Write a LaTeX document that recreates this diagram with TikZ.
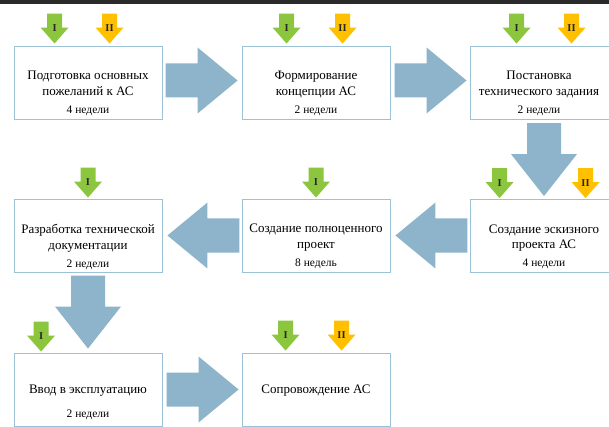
\documentclass[tikz,border=0pt]{standalone}
\usepackage{fontspec}
\setmainfont{Liberation Serif}
\usetikzlibrary{calc}
\definecolor{bigarr}{HTML}{8DB4CA}
\definecolor{boxline}{HTML}{9CC2D8}
\definecolor{grn}{HTML}{8CC63F}
\definecolor{org}{HTML}{FFC000}
\definecolor{topbar}{HTML}{2A2A2A}
\tikzset{
  stagebox/.style={draw=boxline, line width=0.9pt, minimum width=148pt, minimum height=73pt, inner sep=0pt},
  stagetext/.style={align=center, inner sep=0pt, anchor=north, font=\fontsize{13}{15.5}\selectfont},
  lbl/.style={font=\bfseries\fontsize{10.5}{11}\selectfont, inner sep=0pt, text=black!85},
  bigarrow/.style={fill=bigarr},
  barR/.pic={\fill[bigarrow] (0,0) -- (-40,-33) -- (-40,-17) -- (-72,-17) -- (-72,17) -- (-40,17) -- (-40,33) -- cycle;},
  barL/.pic={\fill[bigarrow] (0,0) -- (40,-33) -- (40,-17) -- (72,-17) -- (72,17) -- (40,17) -- (40,33) -- cycle;},
  barD/.pic={\fill[bigarrow] (0,0) -- (-33,-42) -- (-17,-42) -- (-17,-73) -- (17,-73) -- (17,-42) -- (33,-42) -- cycle;},
}
\newcommand\sarr[4]{%
  \coordinate (#1) at #2;
  \fill[#3] ($(#1)+(-7.5,-30)$) -- ($(#1)+(7.5,-30)$) -- ($(#1)+(7.5,-16)$) -- ($(#1)+(14,-16)$) -- (#1) -- ($(#1)+(-14,-16)$) -- ($(#1)+(-7.5,-16)$) -- cycle;
  \node[lbl] (#1l) at ($(#1)+(0,-15)$) {#4};
}
\newcommand\wk[1]{\\[2.5pt]{\fontsize{11.5}{12}\selectfont #1}}
\begin{document}
\begin{tikzpicture}[x=1pt,y=-1pt]
\useasboundingbox (0,0) rectangle (609,427);
\clip (0,0) rectangle (609,427);
\fill[white] (0,0) rectangle (609,427);
\fill[topbar] (0,0) rectangle (609,4);
% boxes
\node[stagebox] (b1) at (88,82.5) {};
\node[stagebox] (b2) at (316,82.5) {};
\node[stagebox] (b3) at (544,82.5) {};
\node[stagebox] (b4) at (88,235.5) {};
\node[stagebox] (b5) at (316,235.5) {};
\node[stagebox] (b6) at (544,236) {};
\node[stagebox] (b7) at (88,389.5) {};
\node[stagebox] (b8) at (316,389.5) {};
% texts
\node[stagetext] (t1) at ($(b1.north)+(0,25.5)$) {Подготовка основных\\пожеланий к АС\wk{4 недели}};
\node[stagetext] (t2) at ($(b2.north)+(0,25.5)$) {Формирование\\концепции АС\wk{2 недели}};
\node[stagetext] (t3) at ($(b3.north)+(-5,25.5)$) {Постановка\\технического задания\wk{2 недели}};
\node[stagetext] (t4) at ($(b4.north)+(0,25.5)$) {Разработка технической\\документации\wk{2 недели}};
\node[stagetext] (t5) at ($(b5.north)+(0,25.5)$) {Создание полноценного\\проект\wk{8 недель}};
\node[stagetext] (t6) at ($(b6.north)+(0,25.5)$) {Создание эскизного\\проекта АС\wk{4 недели}};
\node[stagetext] (t7) at ($(b7.north)+(0,32.5)$) {Ввод в эксплуатацию\\[8pt]{\fontsize{11.5}{12}\selectfont 2 недели}};
\node[stagetext] (t8) at ($(b8.north)+(0,32.5)$) {Сопровождение АС};
% big arrows
\pic at ($(b2.west)+(-4,-2)$) {barR};
\pic at ($(b3.west)+(-3,-2)$) {barR};
\pic at ($(b6.north)+(0,-3)$) {barD};
\pic at ($(b4.east)+(5,0)$) {barL};
\pic at ($(b5.east)+(5,0)$) {barL};
\pic at ($(b7.north)+(0,-4)$) {barD};
\pic at ($(b8.west)+(-3,0)$) {barR};
% small arrows
\sarr{g1}{($(b1.north west)+(41,-2)$)}{grn}{I}
\sarr{o1}{($(b1.north west)+(96,-2)$)}{org}{II}
\sarr{g2}{($(b2.north west)+(45,-2)$)}{grn}{I}
\sarr{o2}{($(b2.north west)+(101,-2)$)}{org}{II}
\sarr{g3}{($(b3.north west)+(47,-2)$)}{grn}{I}
\sarr{o3}{($(b3.north west)+(102,-2)$)}{org}{II}
\sarr{g4}{($(b4.north)+(0,-1)$)}{grn}{I}
\sarr{g5}{($(b5.north)+(0,-1)$)}{grn}{I}
\sarr{g6}{($(b6.north west)+(30,-1)$)}{grn}{I}
\sarr{o6}{($(b6.north west)+(116,-1)$)}{org}{II}
\sarr{g7}{($(b7.north west)+(27.5,-1)$)}{grn}{I}
\sarr{g8}{($(b8.north west)+(44,-2)$)}{grn}{I}
\sarr{o8}{($(b8.north west)+(100,-2)$)}{org}{II}
\end{tikzpicture}
\end{document}
